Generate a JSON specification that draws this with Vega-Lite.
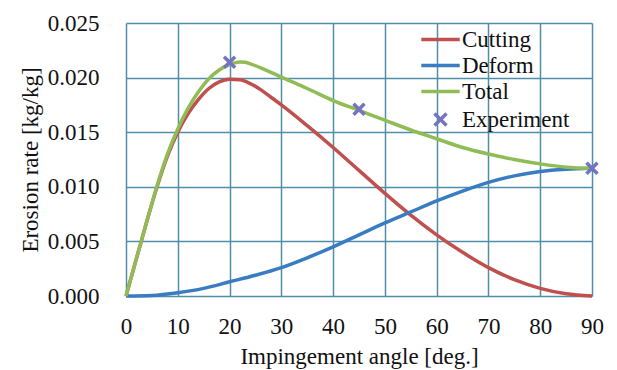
{
  "$schema": "https://vega.github.io/schema/vega-lite/v6.json",
  "width": 466,
  "height": 273,
  "autosize": {"type": "none"},
  "padding": {"left": 126, "top": 23, "right": 25, "bottom": 74},
  "background": "white",
  "config": {
    "view": {"stroke": null},
    "font": "Liberation Serif, Times New Roman, serif",
    "axis": {
      "labelFont": "Liberation Serif, Times New Roman, serif",
      "titleFont": "Liberation Serif, Times New Roman, serif",
      "labelFontSize": 23,
      "titleFontSize": 23,
      "titleFontWeight": "normal",
      "labelColor": "#111",
      "titleColor": "#111",
      "labelFlush": false,
      "domain": false,
      "ticks": false,
      "grid": true,
      "gridColor": "#4f8ea8",
      "gridWidth": 1.5,
      "gridOpacity": 1
    },
    "legend": {
      "orient": "none", "legendX": 303, "legendY": 5, "padding": 0,
      "labelFont": "Liberation Serif, Times New Roman, serif",
      "labelFontSize": 23, "labelColor": "#111", "labelOffset": 10,
      "rowPadding": 2, "symbolSize": 144
    }
  },
  "datasets": {
    "curves": [
      {"angle": 0, "series": "Cutting", "rate": 0},
      {"angle": 2, "series": "Cutting", "rate": 0.0034},
      {"angle": 4, "series": "Cutting", "rate": 0.0068},
      {"angle": 6, "series": "Cutting", "rate": 0.0100},
      {"angle": 8, "series": "Cutting", "rate": 0.0128},
      {"angle": 10, "series": "Cutting", "rate": 0.0150},
      {"angle": 12, "series": "Cutting", "rate": 0.0167},
      {"angle": 14, "series": "Cutting", "rate": 0.0180},
      {"angle": 16, "series": "Cutting", "rate": 0.0190},
      {"angle": 18, "series": "Cutting", "rate": 0.0196},
      {"angle": 20, "series": "Cutting", "rate": 0.01985},
      {"angle": 22, "series": "Cutting", "rate": 0.0198},
      {"angle": 24, "series": "Cutting", "rate": 0.01945},
      {"angle": 26, "series": "Cutting", "rate": 0.0189},
      {"angle": 28, "series": "Cutting", "rate": 0.0182},
      {"angle": 30, "series": "Cutting", "rate": 0.0175},
      {"angle": 35, "series": "Cutting", "rate": 0.0156},
      {"angle": 40, "series": "Cutting", "rate": 0.0136},
      {"angle": 45, "series": "Cutting", "rate": 0.0115},
      {"angle": 50, "series": "Cutting", "rate": 0.0094},
      {"angle": 55, "series": "Cutting", "rate": 0.0074},
      {"angle": 60, "series": "Cutting", "rate": 0.0056},
      {"angle": 65, "series": "Cutting", "rate": 0.0040},
      {"angle": 70, "series": "Cutting", "rate": 0.0026},
      {"angle": 75, "series": "Cutting", "rate": 0.0015},
      {"angle": 80, "series": "Cutting", "rate": 0.0007},
      {"angle": 85, "series": "Cutting", "rate": 0.0002},
      {"angle": 90, "series": "Cutting", "rate": 0.0},
      {"angle": 0, "series": "Deform", "rate": 0},
      {"angle": 5, "series": "Deform", "rate": 0.00005},
      {"angle": 10, "series": "Deform", "rate": 0.0003},
      {"angle": 15, "series": "Deform", "rate": 0.0007},
      {"angle": 20, "series": "Deform", "rate": 0.0013},
      {"angle": 25, "series": "Deform", "rate": 0.0019},
      {"angle": 30, "series": "Deform", "rate": 0.0026},
      {"angle": 35, "series": "Deform", "rate": 0.0035},
      {"angle": 40, "series": "Deform", "rate": 0.0045},
      {"angle": 45, "series": "Deform", "rate": 0.0056},
      {"angle": 50, "series": "Deform", "rate": 0.0067},
      {"angle": 55, "series": "Deform", "rate": 0.0077},
      {"angle": 60, "series": "Deform", "rate": 0.0087},
      {"angle": 65, "series": "Deform", "rate": 0.0096},
      {"angle": 70, "series": "Deform", "rate": 0.0104},
      {"angle": 75, "series": "Deform", "rate": 0.0110},
      {"angle": 80, "series": "Deform", "rate": 0.0114},
      {"angle": 85, "series": "Deform", "rate": 0.0116},
      {"angle": 90, "series": "Deform", "rate": 0.0117},
      {"angle": 0, "series": "Total", "rate": 0},
      {"angle": 2, "series": "Total", "rate": 0.0034},
      {"angle": 4, "series": "Total", "rate": 0.0068},
      {"angle": 6, "series": "Total", "rate": 0.0101},
      {"angle": 8, "series": "Total", "rate": 0.0130},
      {"angle": 10, "series": "Total", "rate": 0.0153},
      {"angle": 12, "series": "Total", "rate": 0.0172},
      {"angle": 14, "series": "Total", "rate": 0.0187},
      {"angle": 16, "series": "Total", "rate": 0.0199},
      {"angle": 18, "series": "Total", "rate": 0.0207},
      {"angle": 20, "series": "Total", "rate": 0.0212},
      {"angle": 21, "series": "Total", "rate": 0.02135},
      {"angle": 22, "series": "Total", "rate": 0.02142},
      {"angle": 23, "series": "Total", "rate": 0.0214},
      {"angle": 24, "series": "Total", "rate": 0.02125},
      {"angle": 26, "series": "Total", "rate": 0.0209},
      {"angle": 28, "series": "Total", "rate": 0.02048},
      {"angle": 30, "series": "Total", "rate": 0.02005},
      {"angle": 35, "series": "Total", "rate": 0.0190},
      {"angle": 40, "series": "Total", "rate": 0.0179},
      {"angle": 45, "series": "Total", "rate": 0.0170},
      {"angle": 50, "series": "Total", "rate": 0.0161},
      {"angle": 55, "series": "Total", "rate": 0.0152},
      {"angle": 60, "series": "Total", "rate": 0.0144},
      {"angle": 65, "series": "Total", "rate": 0.0136},
      {"angle": 70, "series": "Total", "rate": 0.0130},
      {"angle": 75, "series": "Total", "rate": 0.0125},
      {"angle": 80, "series": "Total", "rate": 0.0121},
      {"angle": 85, "series": "Total", "rate": 0.0118},
      {"angle": 90, "series": "Total", "rate": 0.0117}
    ],
    "experiment": [
      {"angle": 20, "series": "Experiment", "rate": 0.0214},
      {"angle": 45, "series": "Experiment", "rate": 0.0171},
      {"angle": 90, "series": "Experiment", "rate": 0.0117}
    ]
  },
  "encoding": {
    "x": {
      "field": "angle", "type": "quantitative",
      "scale": {"domain": [0, 90], "nice": false},
      "axis": {"values": [0, 10, 20, 30, 40, 50, 60, 70, 80, 90], "title": "Impingement angle [deg.]", "labelPadding": 19, "titlePadding": 7}
    },
    "y": {
      "field": "rate", "type": "quantitative",
      "scale": {"domain": [0, 0.025], "nice": false},
      "axis": {"values": [0, 0.005, 0.01, 0.015, 0.02, 0.025], "format": ".3f", "title": "Erosion rate [kg/kg]", "labelPadding": 27, "titlePadding": 5}
    }
  },
  "layer": [
    {
      "data": {"name": "curves"},
      "mark": {"type": "line", "strokeWidth": 3.5, "interpolate": "monotone"},
      "encoding": {
        "color": {
          "field": "series", "type": "nominal",
          "scale": {"domain": ["Cutting", "Deform", "Total"], "range": ["#c0504d", "#3a7cc2", "#8fbc55"]},
          "legend": null
        }
      }
    },
    {
      "data": {"name": "experiment"},
      "mark": {"type": "point", "filled": false, "size": 121, "opacity": 1},
      "encoding": {
        "shape": {
          "field": "series", "type": "nominal",
          "scale": {"domain": ["Cutting", "Deform", "Total", "Experiment"], "range": ["M-3.2,0L3.2,0", "M-3.2,0L3.2,0", "M-3.2,0L3.2,0", "M-1,-1L1,1M-1,1L1,-1"]},
          "legend": {"title": null}
        },
        "stroke": {
          "field": "series", "type": "nominal",
          "scale": {"domain": ["Cutting", "Deform", "Total", "Experiment"], "range": ["#c0504d", "#3a7cc2", "#8fbc55", "#7474bf"]},
          "legend": {"title": null}
        },
        "strokeWidth": {
          "field": "series", "type": "nominal",
          "scale": {"domain": ["Cutting", "Deform", "Total", "Experiment"], "range": [3.5, 3.5, 3.5, 1.6]},
          "legend": {"title": null}
        }
      }
    }
  ]
}
